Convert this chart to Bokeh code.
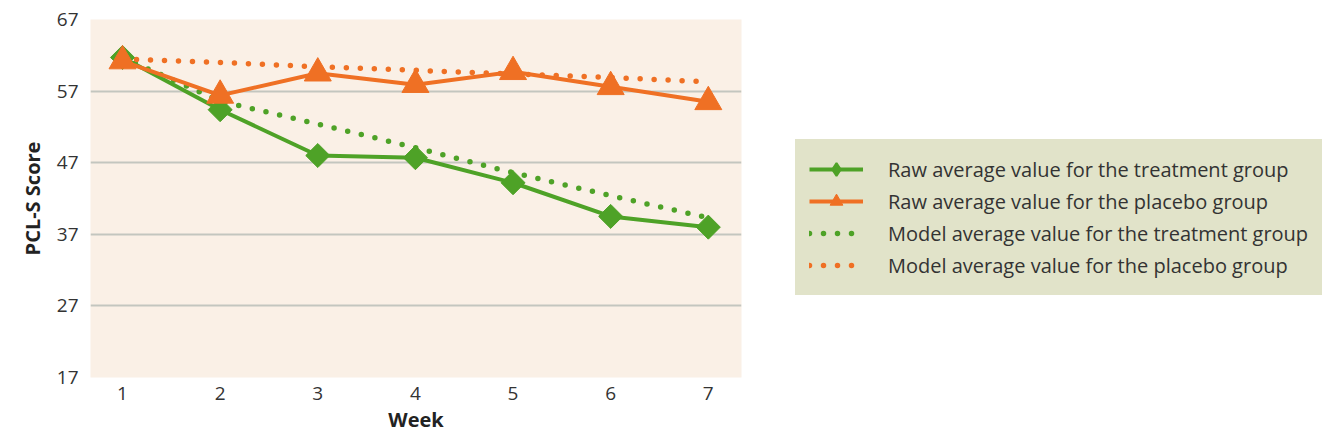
from bokeh.plotting import figure
from bokeh.models import Legend, LegendItem, Range1d, FixedTicker
from bokeh.embed import file_html
from bokeh.resources import INLINE
import math

weeks = [1, 2, 3, 4, 5, 6, 7]
raw_treatment = [61.7, 54.4, 48.0, 47.7, 44.2, 39.5, 38.0]
raw_placebo = [61.2, 56.4, 59.5, 57.9, 59.7, 57.6, 55.5]
model_treatment = [61.7, 55.6, 52.4, 49.1, 45.6, 42.4, 39.3]
model_placebo = [61.5, 61.0, 60.4, 59.9, 59.4, 58.9, 58.3]
y_ticks = [17, 27, 37, 47, 57, 67]

GREEN = "#4ea227"
ORANGE = "#ef7024"
FONT = "Open Sans"
LEGEND_BG = "#e1e3c9"

p = figure(frame_width=651, frame_height=358, min_border_left=90, min_border_top=19,
           min_border_bottom=49, min_border_right=601,
           output_backend="svg", toolbar_location=None,
           x_range=Range1d(0.672, 7.34), y_range=Range1d(17, 67))
p.border_fill_color = "white"
p.background_fill_color = "#faf0e6"
p.outline_line_color = None

p.ygrid.ticker = FixedTicker(ticks=y_ticks)
p.ygrid.grid_line_color = "#c3c6bf"
p.ygrid.grid_line_width = 2
p.xgrid.grid_line_color = None

p.yaxis.ticker = FixedTicker(ticks=y_ticks)
p.xaxis.ticker = FixedTicker(ticks=weeks)
for ax in (p.xaxis[0], p.yaxis[0]):
    ax.axis_line_color = None
    ax.major_tick_line_color = None
    ax.minor_tick_line_color = None
    ax.major_label_text_font = FONT
    ax.major_label_text_font_size = "19px"
    ax.major_label_text_color = "#333333"
    ax.axis_label_text_font = FONT
    ax.axis_label_text_font_style = "bold"
    ax.axis_label_text_font_size = "20px"
    ax.axis_label_text_color = "#222222"
p.yaxis.major_label_standoff = 6
p.xaxis.major_label_standoff = 3
p.xaxis.axis_label = "Week"
p.yaxis.axis_label = "PCL-S Score"
p.xaxis.axis_label_standoff = 3
p.yaxis.axis_label_standoff = 8

r_mt = p.line(weeks, model_treatment, line_color=GREEN, line_width=5.5,
              line_dash="0 14", line_cap="round")
r_mp = p.line(weeks, model_placebo, line_color=ORANGE, line_width=5.5,
              line_dash="0 14", line_cap="round")
r_tl = p.line(weeks, raw_treatment, line_color=GREEN, line_width=4)
r_ts = p.scatter(weeks, raw_treatment, marker="square", size=17, angle=math.pi / 4,
                 fill_color=GREEN, line_color=GREEN)
r_pl = p.line(weeks, raw_placebo, line_color=ORANGE, line_width=4)
r_ps = p.scatter(weeks, raw_placebo, marker="triangle", size=27, fill_color=ORANGE,
                 line_color=ORANGE)

# legend-only glyph (diamond), drawn with no data
r_leg_d = p.scatter([float("nan")], [float("nan")], marker="diamond",
                    fill_color=GREEN, line_color=GREEN, line_width=2)

legend = Legend(items=[
    LegendItem(label="Raw average value for the treatment group", renderers=[r_tl, r_leg_d]),
    LegendItem(label="Raw average value for the placebo group", renderers=[r_pl, r_ps]),
    LegendItem(label="Model average value for the treatment group", renderers=[r_mt]),
    LegendItem(label="Model average value for the placebo group", renderers=[r_mp]),
], location=(54, 82))
legend.background_fill_color = LEGEND_BG
legend.background_fill_alpha = 1
legend.border_line_color = LEGEND_BG
legend.border_line_alpha = 1
legend.label_text_font = FONT
legend.label_text_font_size = "20px"
legend.label_text_color = "#333333"
legend.glyph_width = 54
legend.glyph_height = 32
legend.label_height = 32
legend.spacing = 0
legend.padding = 13
legend.margin = 0
legend.label_standoff = 25
p.add_layout(legend, "right")

open("out.html", "w").write(file_html(p, INLINE))
